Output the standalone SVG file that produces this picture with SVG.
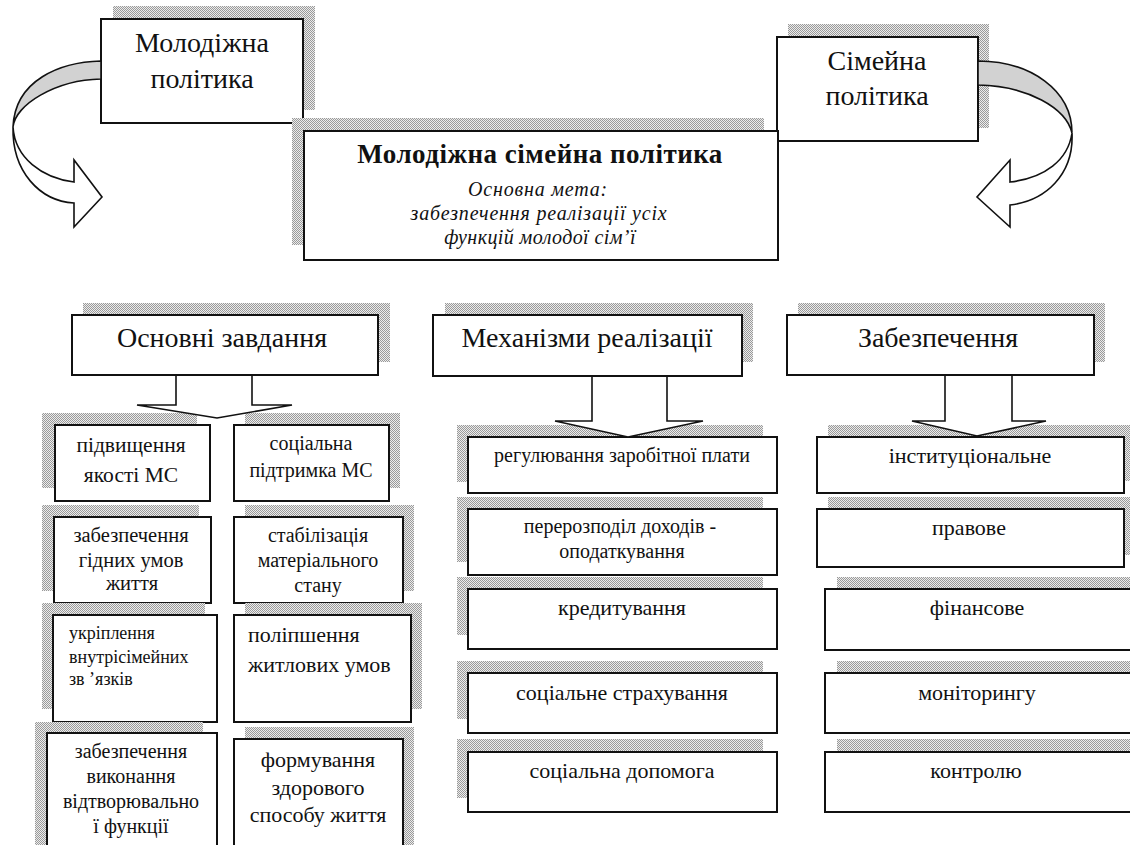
<svg xmlns="http://www.w3.org/2000/svg" width="1130" height="845" viewBox="0 0 1130 845">
<defs>
<pattern id="dots" width="2" height="2" patternUnits="userSpaceOnUse">
<rect width="2" height="2" fill="#ececec"/>
<rect width="1" height="1" fill="#9a9a9a"/>
<rect x="1" y="1" width="1" height="1" fill="#9a9a9a"/>
</pattern>
</defs>
<rect width="1130" height="845" fill="#fff"/>

<g id="nodes" font-family="Liberation Serif" fill="#111" text-anchor="middle">
<g id="node-youth" font-size="28">
<rect x="113" y="6" width="202" height="104" fill="url(#dots)"/>
<rect x="101" y="19" width="202" height="104" fill="#fff" stroke="#111" stroke-width="2"/>
<text x="202" y="52">Молодіжна</text>
<text x="202" y="88">політика</text>
</g>

<g id="node-family" font-size="28">
<rect x="788" y="24" width="201" height="104" fill="url(#dots)"/>
<rect x="777" y="37" width="201" height="104" fill="#fff" stroke="#111" stroke-width="2"/>
<text x="877" y="70">Сімейна</text>
<text x="877" y="105">політика</text>
</g>

<g id="node-center">
<rect x="292" y="118" width="472" height="127" fill="url(#dots)"/>
<rect x="304" y="131" width="474" height="129" fill="#fff" stroke="#111" stroke-width="2"/>
<text x="540" y="163" font-size="27" font-weight="bold" letter-spacing="0.5">Молодіжна сімейна політика</text>
<text x="538" y="196" font-size="20" font-style="italic" letter-spacing="0.8">Основна мета:</text>
<text x="539" y="220" font-size="20" font-style="italic" letter-spacing="0.8">забезпечення реалізації усіх</text>
<text x="540" y="244" font-size="20" font-style="italic" letter-spacing="0.4">функцій молодої сім’ї</text>
</g>

<g id="node-tasks" font-size="28">
<rect x="83" y="303" width="307" height="59" fill="url(#dots)"/>
<rect x="72" y="315" width="306" height="60" fill="#fff" stroke="#111" stroke-width="2"/>
<text x="222" y="347">Основні завдання</text>
</g>

<g id="node-mechanisms" font-size="28">
<rect x="445" y="303" width="308" height="59" fill="url(#dots)"/>
<rect x="433" y="315" width="309" height="61" fill="#fff" stroke="#111" stroke-width="2"/>
<text x="587" y="347">Механізми реалізації</text>
</g>

<g id="node-support" font-size="28">
<rect x="798" y="303" width="307" height="59" fill="url(#dots)"/>
<rect x="787" y="315" width="307" height="60" fill="#fff" stroke="#111" stroke-width="2"/>
<text x="938" y="347">Забезпечення</text>
</g>

<g id="node-a" font-size="21.5">
<rect x="42" y="413" width="155" height="75" fill="url(#dots)"/>
<rect x="55" y="425" width="155" height="76" fill="#fff" stroke="#111" stroke-width="2"/>
<text x="131" y="452">підвищення</text>
<text x="131" y="482">якості МС</text>
</g>
<g id="node-b" font-size="20">
<rect x="245" y="413" width="155" height="75" fill="url(#dots)"/>
<rect x="234" y="425" width="155" height="76" fill="#fff" stroke="#111" stroke-width="2"/>
<text x="311" y="450">соціальна</text>
<text x="311" y="477">підтримка МС</text>
</g>
<g id="node-c" font-size="20.5">
<rect x="42" y="505" width="157" height="86" fill="url(#dots)"/>
<rect x="54" y="517" width="157" height="86" fill="#fff" stroke="#111" stroke-width="2"/>
<text x="131" y="542">забезпечення</text>
<text x="131" y="567">гідних умов</text>
<text x="132" y="590">життя</text>
</g>
<g id="node-d" font-size="20">
<rect x="245" y="505" width="169" height="86" fill="url(#dots)"/>
<rect x="234" y="517" width="169" height="86" fill="#fff" stroke="#111" stroke-width="2"/>
<text x="318" y="542">стабілізація</text>
<text x="318" y="567">матеріального</text>
<text x="318" y="592">стану</text>
</g>
<g id="node-e" font-size="18" text-anchor="start">
<rect x="42" y="603" width="163" height="106" fill="url(#dots)"/>
<rect x="53" y="615" width="164" height="107" fill="#fff" stroke="#111" stroke-width="2"/>
<text x="69" y="639">укріплення</text>
<text x="69" y="663">внутрісімейних</text>
<text x="69" y="685">зв ’язків</text>
</g>
<g id="node-f" font-size="22" text-anchor="start">
<rect x="245" y="603" width="177" height="106" fill="url(#dots)"/>
<rect x="234" y="615" width="177" height="107" fill="#fff" stroke="#111" stroke-width="2"/>
<text x="248" y="642">поліпшення</text>
<text x="248" y="672">житлових умов</text>
</g>
<g id="node-g" font-size="20">
<rect x="35" y="722" width="168" height="140" fill="url(#dots)"/>
<rect x="47" y="733" width="170" height="130" fill="#fff" stroke="#111" stroke-width="2"/>
<text x="131" y="758">забезпечення</text>
<text x="131" y="783">виконання</text>
<text x="131" y="808">відтворювально</text>
<text x="131" y="833">ї функції</text>
</g>
<g id="node-h" font-size="22">
<rect x="245" y="727" width="169" height="140" fill="url(#dots)"/>
<rect x="234" y="739" width="169" height="130" fill="#fff" stroke="#111" stroke-width="2"/>
<text x="318" y="767">формування</text>
<text x="318" y="795">здорового</text>
<text x="318" y="822">способу життя</text>
</g>

<g id="node-m1" font-size="20">
<rect x="457" y="425" width="306" height="57" fill="url(#dots)"/>
<rect x="468" y="437" width="309" height="56" fill="#fff" stroke="#111" stroke-width="2"/>
<text x="622" y="462">регулювання заробітної плати</text>
</g>
<g id="node-m2" font-size="20">
<rect x="457" y="497" width="306" height="65" fill="url(#dots)"/>
<rect x="468" y="509" width="309" height="66" fill="#fff" stroke="#111" stroke-width="2"/>
<text x="620" y="533">перерозподіл доходів -</text>
<text x="622" y="558">оподаткування</text>
</g>
<g id="node-m3" font-size="22">
<rect x="457" y="577" width="306" height="58" fill="url(#dots)"/>
<rect x="468" y="589" width="309" height="60" fill="#fff" stroke="#111" stroke-width="2"/>
<text x="622" y="615">кредитування</text>
</g>
<g id="node-m4" font-size="22">
<rect x="457" y="661" width="306" height="58" fill="url(#dots)"/>
<rect x="468" y="673" width="309" height="60" fill="#fff" stroke="#111" stroke-width="2"/>
<text x="622" y="700">соціальне страхування</text>
</g>
<g id="node-m5" font-size="22">
<rect x="457" y="739" width="306" height="59" fill="url(#dots)"/>
<rect x="468" y="752" width="309" height="60" fill="#fff" stroke="#111" stroke-width="2"/>
<text x="622" y="778">соціальна допомога</text>
</g>

<g id="node-r1" font-size="22">
<rect x="828" y="425" width="310" height="56" fill="url(#dots)"/>
<rect x="817" y="437" width="307" height="56" fill="#fff" stroke="#111" stroke-width="2"/>
<text x="970" y="463">інституціональне</text>
</g>
<g id="node-r2" font-size="22">
<rect x="828" y="497" width="310" height="58" fill="url(#dots)"/>
<rect x="817" y="509" width="307" height="58" fill="#fff" stroke="#111" stroke-width="2"/>
<text x="969" y="535">правове</text>
</g>
<g id="node-r3" font-size="22">
<rect x="837" y="577" width="310" height="60" fill="url(#dots)"/>
<rect x="825" y="589" width="320" height="61" fill="#fff" stroke="#111" stroke-width="2"/>
<text x="977" y="615">фінансове</text>
</g>
<g id="node-r4" font-size="22">
<rect x="837" y="661" width="310" height="60" fill="url(#dots)"/>
<rect x="825" y="673" width="320" height="60" fill="#fff" stroke="#111" stroke-width="2"/>
<text x="977" y="700">моніторингу</text>
</g>
<g id="node-r5" font-size="22">
<rect x="837" y="739" width="310" height="61" fill="url(#dots)"/>
<rect x="825" y="752" width="320" height="60" fill="#fff" stroke="#111" stroke-width="2"/>
<text x="976" y="778">контролю</text>
</g>
</g>

<g id="connectors" stroke="#111" stroke-width="1.6">
<path fill="#d2d2d2" d="M101,61 C60,62 15,80 13,127 C15,105 55,80 101,79 Z"/>
<path fill="#fff" d="M13,127 C15,158 42,178 74,182 L74,160 L102,197 L74,227 L74,203 C40,201 12,172 13,127 Z"/>
<path fill="#d2d2d2" d="M978,61 C1030,61 1072,90 1072,133 C1066,108 1028,86 978,85 Z"/>
<path fill="#fff" d="M1072,133 C1068,160 1045,178 1010,182 L1010,160 L977,197 L1010,227 L1010,205 C1045,201 1074,175 1072,133 Z"/>
<path fill="#fff" d="M176,376 L176,405 L137,405 L217,418 L292,405 L252,405 L252,376"/>
<path fill="#fff" d="M592,377 L592,421 L555,421 L628,437 L703,421 L667,421 L667,377"/>
<path fill="#fff" d="M945,376 L945,421 L912,421 L977,436 L1046,421 L1012,421 L1012,376"/>
</g>
</svg>
